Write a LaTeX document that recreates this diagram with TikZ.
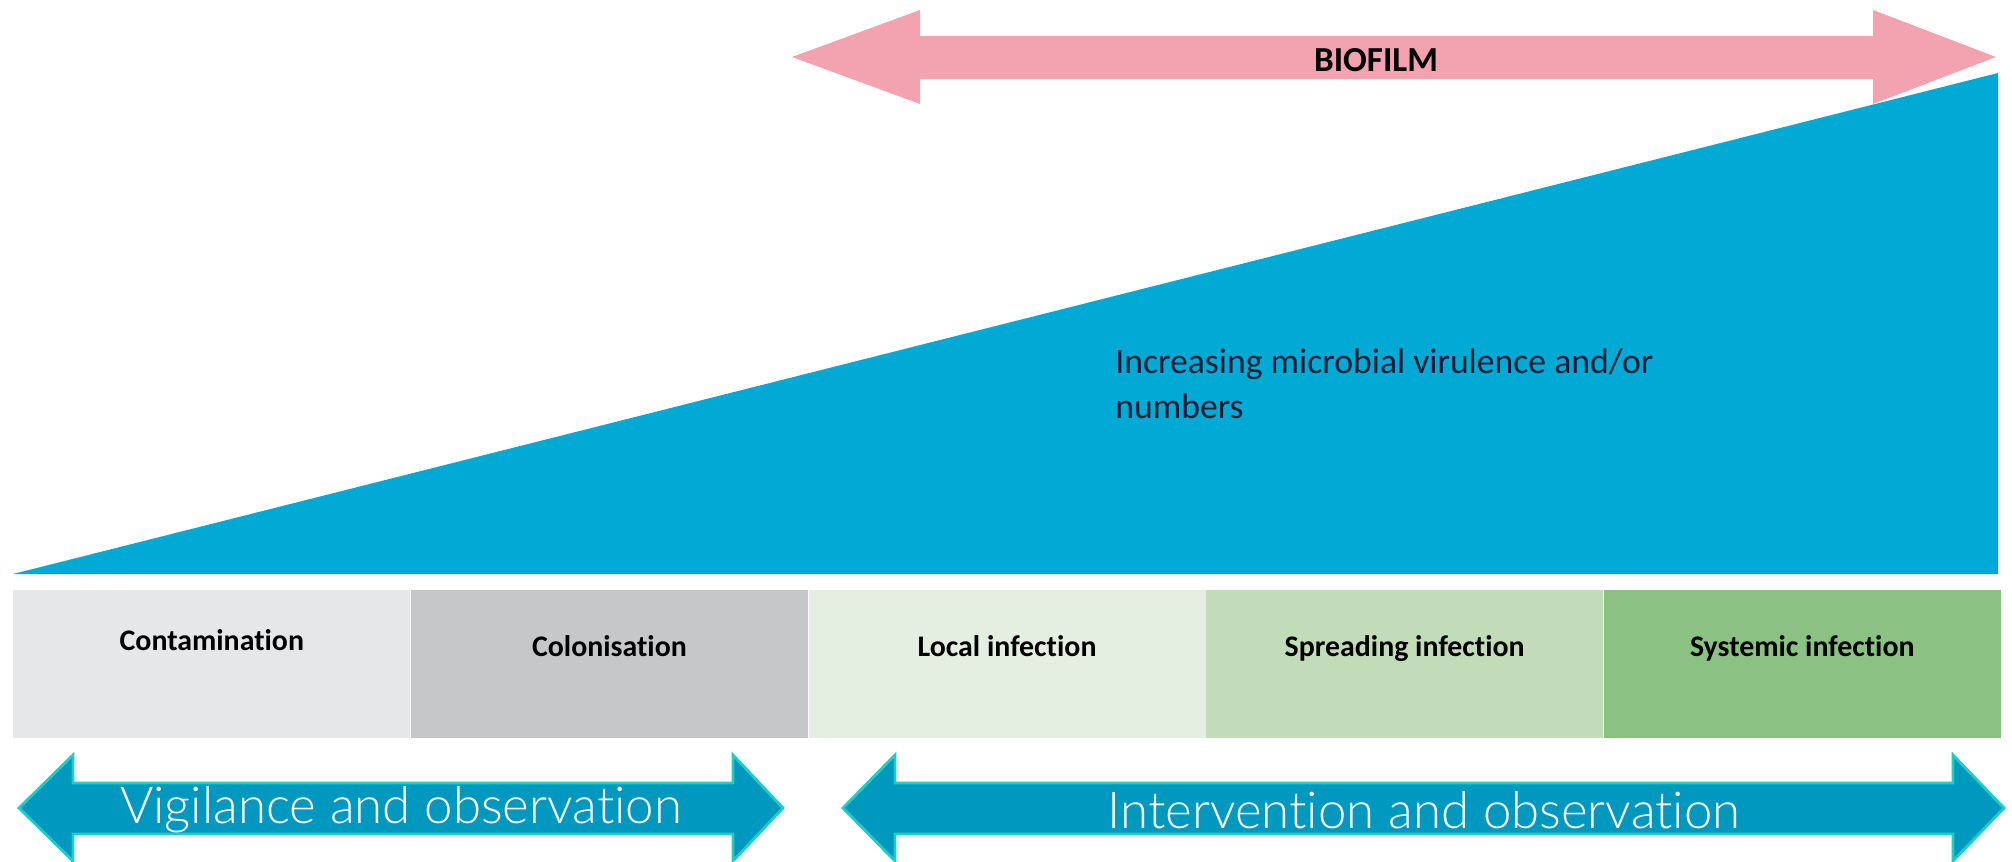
\documentclass[tikz,border=0pt]{standalone}
\usepackage{fontspec}
\setmainfont[Ligatures=NoCommon]{Carlito}
\IfFontExistsTF{Lato Light}{\newfontfamily\thinfont[Ligatures=NoCommon]{Lato Light}}{\newfontfamily\thinfont[Ligatures=NoCommon]{Lato}}
\usetikzlibrary{positioning}

\definecolor{wedgeblue}{RGB}{0,170,212}
\definecolor{biofilmpink}{RGB}{243,162,176}
\definecolor{arrowblue}{RGB}{0,152,190}
\definecolor{arrowedge}{RGB}{30,205,200}
\definecolor{navytext}{RGB}{15,30,55}
\definecolor{stagegrayA}{RGB}{230,231,233}
\definecolor{stagegrayB}{RGB}{198,199,201}
\definecolor{stagegreenA}{RGB}{229,239,225}
\definecolor{stagegreenB}{RGB}{194,220,186}
\definecolor{stagegreenC}{RGB}{139,193,131}

\tikzset{
  stagebox/.style={fill=#1, inner sep=0pt, minimum width=7.94cm, minimum height=2.96cm},
  stagelabel/.style={anchor=base, inner sep=0pt, font=\bfseries\fontsize{17}{20}\selectfont},
  phaselabel/.style={text=white, inner sep=0pt, font=\thinfont\fontsize{29}{33}\selectfont},
  phasearrow/.style={fill=arrowblue, draw=arrowedge, line width=1.6pt, line join=miter}
}

\begin{document}
\begin{tikzpicture}[x=0.02cm, y=-0.02cm]
    \useasboundingbox (0,0) rectangle (2012,862);

    % Biofilm double arrow
    \fill[biofilmpink] (792,57) -- (920,10) -- (920,36) -- (1873,36) -- (1873,10)
      -- (1996,57) -- (1873,104) -- (1873,79) -- (920,79) -- (920,104) -- cycle;
    \node[inner sep=0pt, font=\bfseries\fontsize{20}{24}\selectfont] (biofilm) at (1376,60) {BIOFILM};

    % Rising wedge
    \fill[wedgeblue] (13,574) -- (1998,73) -- (1998,574) -- cycle;
    \node[anchor=base west, inner sep=0pt, align=left, text=navytext,
      font=\fontsize{20.3}{25.6}\selectfont] (virulence) at (1115,418)
      {Increasing microbial virulence and/or\\numbers};

    % Stages
    \node[stagebox=stagegrayA, anchor=north west] (contam) at (13,590) {};
    \node[stagebox=stagegrayB, right=0pt of contam] (colon) {};
    \node[stagebox=stagegreenA, right=0pt of colon] (local) {};
    \node[stagebox=stagegreenB, right=0pt of local] (spread) {};
    \node[stagebox=stagegreenC, right=0pt of spread] (system) {};
    \node[stagelabel] (contamlabel) at ([yshift=-1.22cm]contam.north) {Contamination};
    \node[stagelabel] (colonlabel) at ([yshift=-1.34cm]colon.north) {Colonisation};
    \node[stagelabel] (locallabel) at ([yshift=-1.34cm]local.north) {Local infection};
    \node[stagelabel] (spreadlabel) at ([yshift=-1.34cm]spread.north) {Spreading infection};
    \node[stagelabel] (systemlabel) at ([yshift=-1.34cm]system.north) {Systemic infection};

    % Vigilance arrow
    \draw[phasearrow] (19,808) -- (73,755) -- (73,783) -- (733,783) -- (733,755)
      -- (783,808) -- (733,861) -- (733,834) -- (73,834) -- (73,861) -- cycle;
    \node[phaselabel] (vigilance) at (401,810) {Vigilance and observation};

    % Intervention arrow
    \draw[phasearrow] (843,808) -- (895,755) -- (895,783) -- (1953,783) -- (1953,755)
      -- (2004,808) -- (1953,861) -- (1953,834) -- (895,834) -- (895,861) -- cycle;
    \node[phaselabel] (intervention) at (1424,810) {Intervention and observation};
\end{tikzpicture}
\end{document}
